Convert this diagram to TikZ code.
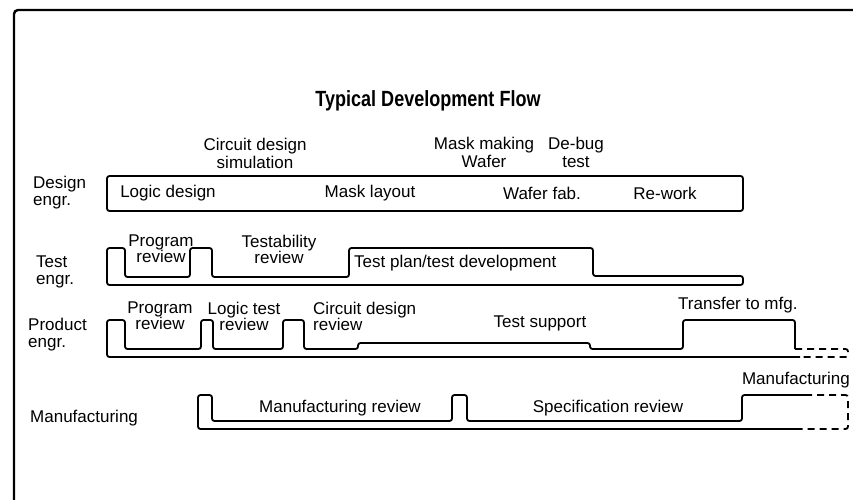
\documentclass[tikz,border=0pt]{standalone}
\usepackage{fontspec}
\setmainfont{Liberation Sans}
\usetikzlibrary{positioning}

\begin{document}
\begin{tikzpicture}[x=1pt, y=-1pt,
	txt/.style={font=\fontsize{17}{16}\selectfont, inner sep=0pt, align=center},
	row/.style={txt, font=\fontsize{17}{17}\selectfont, align=left, anchor=west},
	wave/.style={line width=1.8pt, rounded corners=2.5pt},
	tail/.style={wave, dash pattern=on 7pt off 5pt}]
\useasboundingbox (0,0) rectangle (853,500);
\draw[line width=2.4pt, rounded corners=4pt] (14,500) -- (14,10) -- (853,10);
\node[txt, font=\bfseries\fontsize{22}{26}\selectfont] (title) at (428,101) {\scalebox{0.82}[1]{Typical Development Flow}};

% milestones
\node[txt, font=\fontsize{17}{18}\selectfont] (circsim) at (255,153) {Circuit design\\simulation};
\node[txt, font=\fontsize{17}{18}\selectfont] (maskmak) at (484,152) {Mask making\\Wafer};
\node[txt, font=\fontsize{17}{18}\selectfont] (debug) at (576,152) {De-bug\\test};

% row names
\node[row] (design) at (33,193) {Design\\engr.};
\node[row] (test) at (36,272) {Test\\engr.};
\node[row] (product) at (28,335) {Product\\engr.};
\node[row] (mfg) at (30,418) {Manufacturing};

% design engr.
\draw[wave] (107,176) rectangle (743,211);
\node[txt] (logic) at (168,193) {Logic design};
\node[txt] (masklay) at (370,193) {Mask layout};
\node[txt] (waferfab) at (542,193) {Wafer fab.};
\node[txt] (rework) at (665,193) {Re-work};

% test engr.
\draw[wave] (107,285) -- (107,248) -- (125,248) -- (125,277) -- (190,277) -- (190,248) -- (212,248) -- (212,277)
	-- (349,277) -- (349,248) -- (593,248) -- (593,276) -- (743,276) -- (743,285) -- cycle;
\node[txt] (progrev1) at (161,249) {Program\\review};
\node[txt] (testab) at (279,249) {Testability\\review};
\node[txt, anchor=west] (testplan) at (354,263) {Test plan/test development};

% product engr.
\draw[wave] (800,357) -- (107,357) -- (107,320) -- (125,320) -- (125,349) -- (201,349) -- (201,320) -- (213,320) -- (213,349)
	-- (283,349) -- (283,320) -- (304,320) -- (304,349) -- (358,349) -- (358,343) -- (590,343) -- (590,349)
	-- (683,349) -- (683,320) -- (795,320) -- (795,349);
\draw[tail] (795,349) -- (848,349) -- (848,357) -- (800,357);
\node[txt] (progrev2) at (160,316) {Program\\review};
\node[txt] (logrev) at (244,316) {Logic test\\review};
\node[txt, align=left, anchor=west] (circrev) at (313,316) {Circuit design\\review};
\node[txt] (testsup) at (540,323) {Test support};
\node[txt, anchor=west] (transfer) at (678,305) {Transfer to mfg.};

% manufacturing
\draw[wave] (805,395) -- (742,395) -- (742,421) -- (467,421) -- (467,395) -- (452,395) -- (452,421) -- (212,421)
	-- (212,395) -- (198,395) -- (198,429) -- (800,429);
\draw[tail] (805,395) -- (848,395) -- (848,429) -- (800,429);
\node[txt] (mfgrev) at (340,408) {Manufacturing review};
\node[txt] (specrev) at (608,408) {Specification review};
\node[txt, anchor=east] (mfgtop) at (850,380) {Manufacturing};
\end{tikzpicture}
\end{document}
